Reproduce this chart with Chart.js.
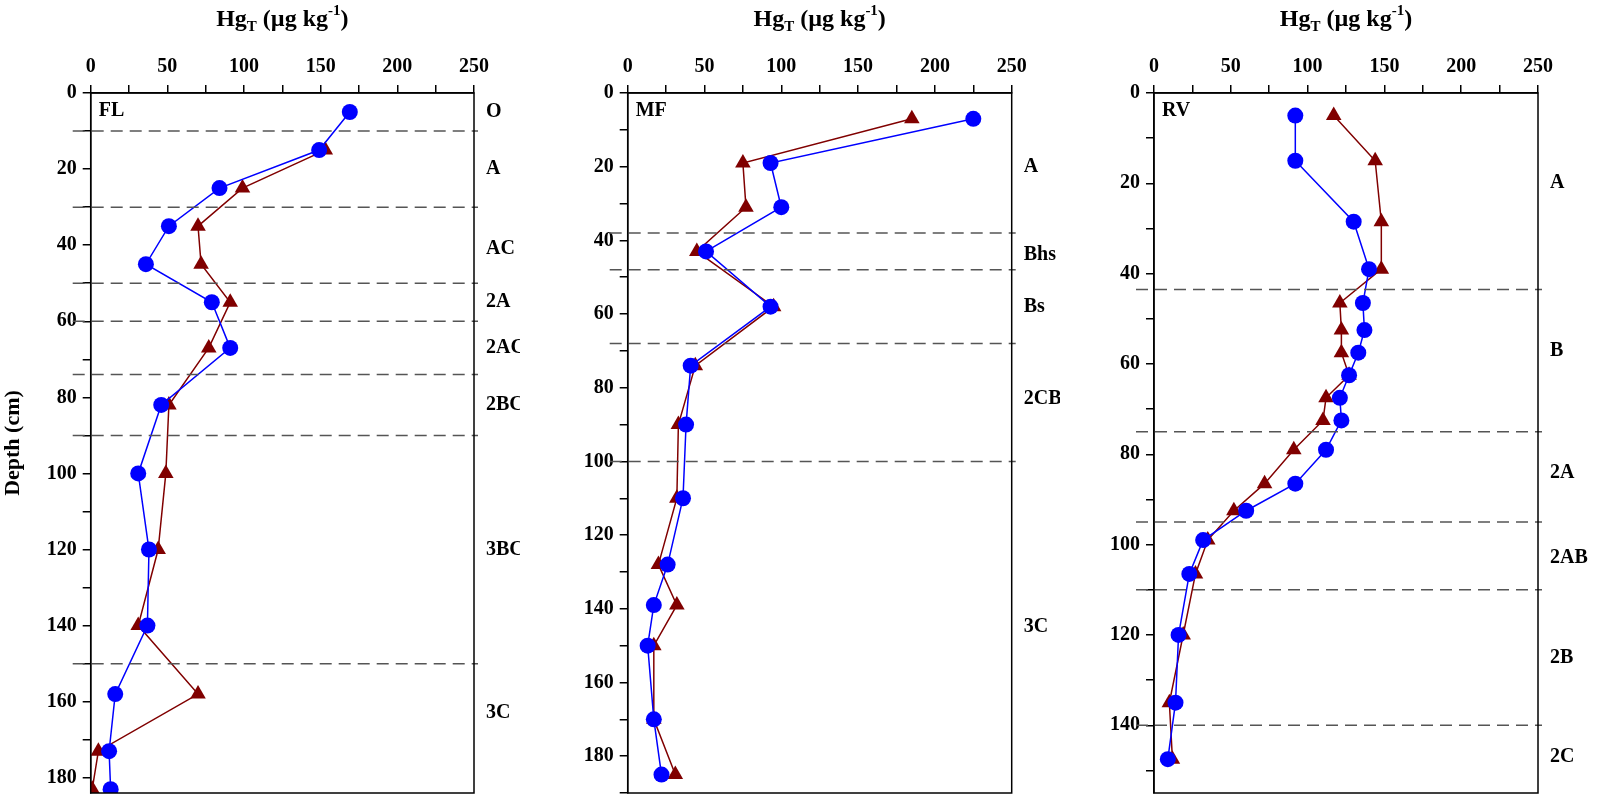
<!DOCTYPE html>
<html>
<head>
<meta charset="utf-8">
<script src="https://cdn.jsdelivr.net/npm/chart.js@4/dist/chart.umd.min.js"></script>
<style>
  body { margin: 0; background: #fff; width: 1597px; height: 811px; overflow: hidden; }
  .panel { position: absolute; top: 0; height: 811px; }
</style>
</head>
<body>
<div class="panel" id="p1" style="left:0;width:520px"><canvas id="c1"></canvas></div>
<div class="panel" id="p2" style="left:560px;width:500px"><canvas id="c2"></canvas></div>
<div class="panel" id="p3" style="left:1090px;width:507px"><canvas id="c3"></canvas></div>
<script>
// FL
const flDepth = [5, 15, 25, 35, 45, 55, 67, 82, 100, 120, 140, 158, 173, 183];
const flBlue = [169, 149, 84, 51, 36, 79, 91, 46, 31, 38, 37, 16, 12, 13];
const flRedDepth = [15, 25, 35, 45, 55, 67, 82, 100, 120, 140, 158, 173, 183];
const flRed = [153, 99, 70, 72, 91, 77, 51, 49, 44, 31, 70, 5, 1];
const flBounds = [10, 30, 50, 60, 74, 90, 150];
const flHorizons = ['O', 'A', 'AC', '2A', '2AC', '2BC', '3BC', '3C'];
const flHorizonDepth = [5, 20, 41, 55, 67, 82, 120, 163];

// MF
const mfDepth = [7, 19, 31, 43, 58, 74, 90, 110, 128, 139, 150, 170, 185];
const mfBlue = [225, 93, 100, 51, 93, 41, 38, 36, 26, 17, 13, 17, 22];
const mfRed = [185, 75, 77, 45, 95, 44, 33, 32, 20, 32, 17, 17, 31];
const mfBounds = [38, 48, 68, 100];
const mfHorizons = ['A', 'Bhs', 'Bs', '2CB', '3C'];
const mfHorizonDepth = [20, 44, 58, 83, 145];

// RV
const rvDepth = [5, 15, 28.5, 39, 46.5, 52.5, 57.5, 62.5, 67.5, 72.5, 79, 86.5, 92.5, 99, 106.5, 120, 135, 147.5];
const rvBlue = [92, 92, 130, 140, 136, 137, 133, 127, 121, 122, 112, 92, 60, 32, 23, 16, 14, 9];
const rvRed = [117, 144, 148, 148, 121, 122, 122, 127, 112, 110, 91, 72, 52, 35, 27, 19, 10, 12];
const rvBounds = [43.5, 75, 95, 110, 140];
const rvHorizons = ['A', 'B', '2A', '2AB', '2B', '2C'];
const rvHorizonDepth = [20, 57, 84, 103, 125, 147];

const xTicks = [0, 50, 100, 150, 200, 250];

const serif = "'Liberation Serif', 'DejaVu Serif', serif";
const tickFont = { family: serif, size: 20, weight: 'bold' };

const profilePlugin = {
    id: 'profile',
    afterDraw(chart, args, opts) {
        const ctx = chart.ctx;
        const a = chart.chartArea;
        const y = chart.scales.y;
        ctx.save();
        // dashed horizon boundaries
        ctx.strokeStyle = '#555';
        ctx.lineWidth = 1.5;
        ctx.setLineDash([12, 7]);
        opts.bounds.forEach(d => {
            const py = y.getPixelForValue(d);
            ctx.beginPath();
            ctx.moveTo(a.left - 18, py);
            ctx.lineTo(a.right + 4, py);
            ctx.stroke();
        });
        ctx.setLineDash([]);
        // frame
        ctx.strokeStyle = '#000';
        ctx.lineWidth = 1.5;
        ctx.strokeRect(a.left, a.top, a.right - a.left, a.bottom - a.top);
        // site label
        ctx.fillStyle = '#000';
        ctx.font = 'bold 20px ' + serif;
        ctx.textBaseline = 'middle';
        ctx.textAlign = 'left';
        ctx.fillText(opts.site, a.left + 8, a.top + 18);
        // horizon names
        opts.horizons.forEach((h, i) => {
            ctx.fillText(h, a.right + 12, y.getPixelForValue(opts.horizonDepth[i]));
        });
        // top title Hg_T (µg kg-1)
        const cx = (a.left + a.right) / 2;
        const parts = [
            ['Hg', 24, 0], ['T', 15, 7], [' (\u00b5g kg', 24, 0], ['-1', 15, -9], [')', 24, 0]
        ];
        let w = 0;
        parts.forEach(p => { ctx.font = 'bold ' + p[1] + 'px ' + serif; w += ctx.measureText(p[0]).width; });
        let x = cx - w / 2;
        parts.forEach(p => {
            ctx.font = 'bold ' + p[1] + 'px ' + serif;
            ctx.fillText(p[0], x, 20 + p[2]);
            x += ctx.measureText(p[0]).width;
        });
        ctx.restore();
    }
};

function pts(xs, ys) {
    return xs.map((v, i) => ({ x: v, y: ys[i] }));
}

function makePanel(id, opt) {
    new Chart(document.getElementById(id), {
        type: 'scatter',
        data: {
            datasets: [{
                data: pts(opt.blue, opt.blueDepth),
                showLine: true,
                borderColor: '#0000ff',
                backgroundColor: '#0000ff',
                borderWidth: 1.5,
                pointStyle: 'circle',
                pointRadius: 8,
                pointBorderWidth: 0
            }, {
                data: pts(opt.red, opt.redDepth),
                showLine: true,
                borderColor: '#800000',
                backgroundColor: '#800000',
                borderWidth: 1.5,
                pointStyle: 'triangle',
                pointRadius: 9,
                pointBorderWidth: 0
            }]
        },
        options: {
            responsive: false,
            animation: false,
            layout: { padding: { top: 0, bottom: 4, left: 0, right: opt.padRight } },
            plugins: {
                legend: { display: false },
                tooltip: { enabled: false },
                profile: {
                    site: opt.site,
                    bounds: opt.bounds,
                    horizons: opt.horizons,
                    horizonDepth: opt.horizonDepth
                }
            },
            scales: {
                x: {
                    type: 'linear',
                    position: 'top',
                    min: 0,
                    max: 250,
                    afterBuildTicks: s => { s.ticks = [0, 25, 50, 75, 100, 125, 150, 175, 200, 225, 250].map(v => ({ value: v })); },
                    afterFit: s => { s.height = 93; },
                    border: { color: '#000', width: 1.5 },
                    grid: { drawOnChartArea: false, drawTicks: true, tickLength: 8, color: '#000', lineWidth: 1.5 },
                    ticks: {
                        font: tickFont,
                        color: '#000',
                        padding: 6,
                        maxRotation: 0,
                        autoSkip: false,
                        callback: v => xTicks.includes(v) ? v : ''
                    }
                },
                y: {
                    type: 'linear',
                    reverse: true,
                    min: 0,
                    max: opt.maxDepth,
                    afterBuildTicks: s => {
                        const t = [];
                        for (let v = 0; v <= opt.maxDepth; v += 10) t.push({ value: v });
                        s.ticks = t;
                    },
                    afterFit: s => { s.width = opt.yWidth; },
                    border: { color: '#000', width: 1.5 },
                    title: {
                        display: opt.yTitle,
                        text: 'Depth (cm)',
                        font: { family: serif, size: 22, weight: 'bold' },
                        color: '#000',
                        padding: 0
                    },
                    grid: { drawOnChartArea: false, drawTicks: true, tickLength: 8, color: '#000', lineWidth: 1.5 },
                    ticks: {
                        font: tickFont,
                        color: '#000',
                        padding: 6,
                        autoSkip: false,
                        callback: v => v % 20 === 0 ? v : ''
                    }
                }
            }
        },
        plugins: [profilePlugin]
    });
}

function setup(id, w) {
    const c = document.getElementById(id);
    c.width = w;
    c.height = 811;
}
setup('c1', 520);
setup('c2', 500);
setup('c3', 507);

makePanel('c1', {
    site: 'FL', blue: flBlue, blueDepth: flDepth, red: flRed, redDepth: flRedDepth,
    bounds: flBounds, horizons: flHorizons, horizonDepth: flHorizonDepth,
    maxDepth: 184, yWidth: 90.7, padRight: 46, yTitle: true
});
makePanel('c2', {
    site: 'MF', blue: mfBlue, blueDepth: mfDepth, red: mfRed, redDepth: mfDepth,
    bounds: mfBounds, horizons: mfHorizons, horizonDepth: mfHorizonDepth,
    maxDepth: 190, yWidth: 67.7, padRight: 48.3, yTitle: false
});
makePanel('c3', {
    site: 'RV', blue: rvBlue, blueDepth: rvDepth, red: rvRed, redDepth: rvDepth,
    bounds: rvBounds, horizons: rvHorizons, horizonDepth: rvHorizonDepth,
    maxDepth: 155, yWidth: 64, padRight: 59, yTitle: false
});
</script>
</body>
</html>
